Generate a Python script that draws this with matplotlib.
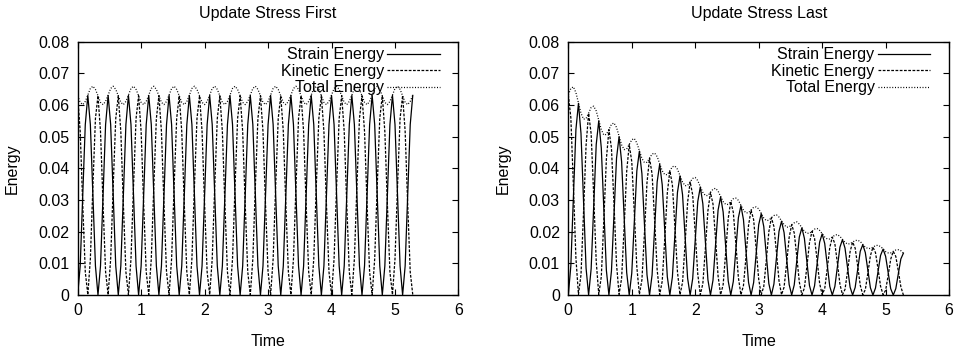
import numpy as np
import matplotlib
matplotlib.use("Agg")
import matplotlib.pyplot as plt

plt.rcParams['font.family'] = ['Liberation Sans', 'DejaVu Sans']
plt.rcParams['font.size'] = 11.5

# sample times (step 0.04 from 0 to 5.28)
time = np.round(np.arange(133) * 0.04, 2)

# Update Stress First
strain_first = [
    0.0, 0.0092, 0.0315, 0.0538, 0.0630, 0.0538, 0.0315, 0.0092,
    0.0, 0.0092, 0.0315, 0.0538, 0.0630, 0.0538, 0.0315, 0.0092,
    0.0, 0.0092, 0.0315, 0.0538, 0.0630, 0.0538, 0.0315, 0.0092,
    0.0, 0.0092, 0.0315, 0.0538, 0.0630, 0.0538, 0.0315, 0.0092,
    0.0, 0.0092, 0.0315, 0.0538, 0.0630, 0.0538, 0.0315, 0.0092,
    0.0, 0.0092, 0.0315, 0.0538, 0.0630, 0.0538, 0.0315, 0.0092,
    0.0, 0.0092, 0.0315, 0.0538, 0.0630, 0.0538, 0.0315, 0.0092,
    0.0, 0.0092, 0.0315, 0.0538, 0.0630, 0.0538, 0.0315, 0.0092,
    0.0, 0.0092, 0.0315, 0.0538, 0.0630, 0.0538, 0.0315, 0.0092,
    0.0, 0.0092, 0.0315, 0.0538, 0.0630, 0.0538, 0.0315, 0.0092,
    0.0, 0.0092, 0.0315, 0.0538, 0.0630, 0.0538, 0.0315, 0.0092,
    0.0, 0.0092, 0.0315, 0.0538, 0.0630, 0.0538, 0.0315, 0.0092,
    0.0, 0.0092, 0.0315, 0.0538, 0.0630, 0.0538, 0.0315, 0.0092,
    0.0, 0.0092, 0.0315, 0.0538, 0.0630, 0.0538, 0.0315, 0.0092,
    0.0, 0.0092, 0.0315, 0.0538, 0.0630, 0.0538, 0.0315, 0.0092,
    0.0, 0.0092, 0.0315, 0.0538, 0.0630, 0.0538, 0.0315, 0.0092,
    0.0, 0.0092, 0.0315, 0.0538, 0.0630,
]
kinetic_first = [
    0.0629, 0.0516, 0.0286, 0.0073, 0.0001, 0.0114, 0.0344, 0.0557,
    0.0629, 0.0516, 0.0286, 0.0073, 0.0001, 0.0114, 0.0344, 0.0557,
    0.0629, 0.0516, 0.0286, 0.0073, 0.0001, 0.0114, 0.0344, 0.0557,
    0.0629, 0.0516, 0.0286, 0.0073, 0.0001, 0.0114, 0.0344, 0.0557,
    0.0629, 0.0516, 0.0286, 0.0073, 0.0001, 0.0114, 0.0344, 0.0557,
    0.0629, 0.0516, 0.0286, 0.0073, 0.0001, 0.0114, 0.0344, 0.0557,
    0.0629, 0.0516, 0.0286, 0.0073, 0.0001, 0.0114, 0.0344, 0.0557,
    0.0629, 0.0516, 0.0286, 0.0073, 0.0001, 0.0114, 0.0344, 0.0557,
    0.0629, 0.0516, 0.0286, 0.0073, 0.0001, 0.0114, 0.0344, 0.0557,
    0.0629, 0.0516, 0.0286, 0.0073, 0.0001, 0.0114, 0.0344, 0.0557,
    0.0629, 0.0516, 0.0286, 0.0073, 0.0001, 0.0114, 0.0344, 0.0557,
    0.0629, 0.0516, 0.0286, 0.0073, 0.0001, 0.0114, 0.0344, 0.0557,
    0.0629, 0.0516, 0.0286, 0.0073, 0.0001, 0.0114, 0.0344, 0.0557,
    0.0629, 0.0516, 0.0286, 0.0073, 0.0001, 0.0114, 0.0344, 0.0557,
    0.0629, 0.0516, 0.0286, 0.0073, 0.0001, 0.0114, 0.0344, 0.0557,
    0.0629, 0.0516, 0.0286, 0.0073, 0.0001, 0.0114, 0.0344, 0.0557,
    0.0629, 0.0516, 0.0286, 0.0073, 0.0001,
]
total_first = [
    0.0629, 0.0608, 0.0601, 0.0611, 0.0631, 0.0652, 0.0659, 0.0649,
    0.0629, 0.0608, 0.0601, 0.0611, 0.0631, 0.0652, 0.0659, 0.0649,
    0.0629, 0.0608, 0.0601, 0.0611, 0.0631, 0.0652, 0.0659, 0.0649,
    0.0629, 0.0608, 0.0601, 0.0611, 0.0631, 0.0652, 0.0659, 0.0649,
    0.0629, 0.0608, 0.0601, 0.0611, 0.0631, 0.0652, 0.0659, 0.0649,
    0.0629, 0.0608, 0.0601, 0.0611, 0.0631, 0.0652, 0.0659, 0.0649,
    0.0629, 0.0608, 0.0601, 0.0611, 0.0631, 0.0652, 0.0659, 0.0649,
    0.0629, 0.0608, 0.0601, 0.0611, 0.0631, 0.0652, 0.0659, 0.0649,
    0.0629, 0.0608, 0.0601, 0.0611, 0.0631, 0.0652, 0.0659, 0.0649,
    0.0629, 0.0608, 0.0601, 0.0611, 0.0631, 0.0652, 0.0659, 0.0649,
    0.0629, 0.0608, 0.0601, 0.0611, 0.0631, 0.0652, 0.0659, 0.0649,
    0.0629, 0.0608, 0.0601, 0.0611, 0.0631, 0.0652, 0.0659, 0.0649,
    0.0629, 0.0608, 0.0601, 0.0611, 0.0631, 0.0652, 0.0659, 0.0649,
    0.0629, 0.0608, 0.0601, 0.0611, 0.0631, 0.0652, 0.0659, 0.0649,
    0.0629, 0.0608, 0.0601, 0.0611, 0.0631, 0.0652, 0.0659, 0.0649,
    0.0629, 0.0608, 0.0601, 0.0611, 0.0631, 0.0652, 0.0659, 0.0649,
    0.0629, 0.0608, 0.0601, 0.0611, 0.0631,
]

# Update Stress Last
strain_last = [
    0.0, 0.0092, 0.0310, 0.0522, 0.0605, 0.0510, 0.0295, 0.0085,
    0.0, 0.0083, 0.0281, 0.0475, 0.0550, 0.0464, 0.0268, 0.0078,
    0.0, 0.0076, 0.0256, 0.0432, 0.0500, 0.0421, 0.0244, 0.0071,
    0.0, 0.0069, 0.0233, 0.0392, 0.0454, 0.0383, 0.0222, 0.0064,
    0.0, 0.0063, 0.0211, 0.0357, 0.0413, 0.0348, 0.0202, 0.0058,
    0.0, 0.0057, 0.0192, 0.0324, 0.0376, 0.0317, 0.0183, 0.0053,
    0.0, 0.0052, 0.0175, 0.0295, 0.0341, 0.0288, 0.0167, 0.0048,
    0.0, 0.0047, 0.0159, 0.0268, 0.0310, 0.0262, 0.0152, 0.0044,
    0.0, 0.0043, 0.0144, 0.0244, 0.0282, 0.0238, 0.0138, 0.0040,
    0.0, 0.0039, 0.0131, 0.0222, 0.0257, 0.0216, 0.0125, 0.0036,
    0.0, 0.0035, 0.0119, 0.0201, 0.0233, 0.0197, 0.0114, 0.0033,
    0.0, 0.0032, 0.0109, 0.0183, 0.0212, 0.0179, 0.0104, 0.0030,
    0.0, 0.0029, 0.0099, 0.0167, 0.0193, 0.0163, 0.0094, 0.0027,
    0.0, 0.0027, 0.0090, 0.0151, 0.0175, 0.0148, 0.0086, 0.0025,
    0.0, 0.0024, 0.0082, 0.0138, 0.0159, 0.0134, 0.0078, 0.0023,
    0.0, 0.0022, 0.0074, 0.0125, 0.0145, 0.0122, 0.0071, 0.0020,
    0.0, 0.0020, 0.0067, 0.0114, 0.0132,
]
kinetic_last = [
    0.0632, 0.0560, 0.0347, 0.0117, 0.0002, 0.0064, 0.0260, 0.0472,
    0.0574, 0.0509, 0.0315, 0.0106, 0.0002, 0.0058, 0.0237, 0.0429,
    0.0522, 0.0463, 0.0287, 0.0097, 0.0002, 0.0053, 0.0215, 0.0390,
    0.0475, 0.0421, 0.0261, 0.0088, 0.0002, 0.0048, 0.0196, 0.0355,
    0.0432, 0.0382, 0.0237, 0.0080, 0.0001, 0.0044, 0.0178, 0.0322,
    0.0392, 0.0348, 0.0215, 0.0073, 0.0001, 0.0040, 0.0162, 0.0293,
    0.0357, 0.0316, 0.0196, 0.0066, 0.0001, 0.0036, 0.0147, 0.0266,
    0.0324, 0.0287, 0.0178, 0.0060, 0.0001, 0.0033, 0.0134, 0.0242,
    0.0295, 0.0261, 0.0162, 0.0055, 0.0001, 0.0030, 0.0121, 0.0220,
    0.0268, 0.0238, 0.0147, 0.0050, 0.0001, 0.0027, 0.0110, 0.0200,
    0.0244, 0.0216, 0.0134, 0.0045, 0.0001, 0.0025, 0.0100, 0.0182,
    0.0222, 0.0196, 0.0122, 0.0041, 0.0001, 0.0022, 0.0091, 0.0165,
    0.0201, 0.0179, 0.0111, 0.0037, 0.0001, 0.0020, 0.0083, 0.0150,
    0.0183, 0.0162, 0.0101, 0.0034, 0.0001, 0.0018, 0.0075, 0.0137,
    0.0167, 0.0148, 0.0091, 0.0031, 0.0001, 0.0017, 0.0069, 0.0124,
    0.0151, 0.0134, 0.0083, 0.0028, 0.0001, 0.0015, 0.0062, 0.0113,
    0.0138, 0.0122, 0.0076, 0.0026, 0.0000,
]
total_last = [
    0.0632, 0.0652, 0.0657, 0.0639, 0.0607, 0.0574, 0.0555, 0.0557,
    0.0574, 0.0592, 0.0596, 0.0581, 0.0552, 0.0522, 0.0505, 0.0507,
    0.0522, 0.0539, 0.0543, 0.0529, 0.0502, 0.0474, 0.0459, 0.0461,
    0.0475, 0.0490, 0.0494, 0.0480, 0.0456, 0.0431, 0.0418, 0.0419,
    0.0432, 0.0445, 0.0448, 0.0437, 0.0414, 0.0392, 0.0380, 0.0380,
    0.0392, 0.0405, 0.0407, 0.0397, 0.0377, 0.0357, 0.0345, 0.0346,
    0.0357, 0.0368, 0.0371, 0.0361, 0.0342, 0.0324, 0.0314, 0.0314,
    0.0324, 0.0334, 0.0337, 0.0328, 0.0311, 0.0295, 0.0286, 0.0286,
    0.0295, 0.0304, 0.0306, 0.0299, 0.0283, 0.0268, 0.0259, 0.0260,
    0.0268, 0.0277, 0.0278, 0.0272, 0.0258, 0.0243, 0.0235, 0.0236,
    0.0244, 0.0251, 0.0253, 0.0246, 0.0234, 0.0222, 0.0214, 0.0215,
    0.0222, 0.0228, 0.0231, 0.0224, 0.0213, 0.0201, 0.0195, 0.0195,
    0.0201, 0.0208, 0.0210, 0.0204, 0.0194, 0.0183, 0.0177, 0.0177,
    0.0183, 0.0189, 0.0191, 0.0185, 0.0176, 0.0166, 0.0161, 0.0162,
    0.0167, 0.0172, 0.0173, 0.0169, 0.0160, 0.0151, 0.0147, 0.0147,
    0.0151, 0.0156, 0.0157, 0.0153, 0.0146, 0.0137, 0.0133, 0.0133,
    0.0138, 0.0142, 0.0143, 0.0140, 0.0132,
]

titles = ["Update Stress First", "Update Stress Last"]
series_names = ["Strain Energy", "Kinetic Energy", "Total Energy"]
x_ticks = [0, 1, 2, 3, 4, 5, 6]
y_ticks = [0, 0.01, 0.02, 0.03, 0.04, 0.05, 0.06, 0.07, 0.08]
y_tick_labels = ["0", "0.01", "0.02", "0.03", "0.04", "0.05", "0.06", "0.07", "0.08"]

panels = [
    (strain_first, kinetic_first, total_first),
    (strain_last, kinetic_last, total_last),
]
styles = ['-', (0, (2.2, 1.2)), (0, (0.8, 1.4))]

fig = plt.figure(figsize=(9.66, 3.5), dpi=100)
ax_left = [0.0804, 0.5883]

for i in range(2):
    ax = fig.add_axes([ax_left[i], 0.157, 0.3942, 0.7243])
    for data, name, ls in zip(panels[i], series_names, styles):
        ax.plot(time, data, color='black', linestyle=ls, linewidth=0.9, label=name)

    ax.set_xlim(0, 6)
    ax.set_ylim(0, 0.08)
    ax.set_xticks(x_ticks)
    ax.set_xticklabels([str(v) for v in x_ticks])
    ax.set_yticks(y_ticks)
    ax.set_yticklabels(y_tick_labels)
    ax.tick_params(direction='in', top=True, right=True, length=4, width=0.8,
                   labelsize=11.5, pad=6)
    for sp in ax.spines.values():
        sp.set_linewidth(1.0)

    ax.set_title(titles[i], fontsize=11.5, pad=17)
    ax.set_xlabel("Time", fontsize=11.5, labelpad=11)
    ax.set_ylabel("Energy", fontsize=11.5, labelpad=13)

    ax.legend(loc='upper right', bbox_to_anchor=(0.951, 0.978), frameon=False,
              markerfirst=False, fontsize=11.5, handlelength=3.3, handletextpad=0.2,
              labelspacing=0.1, borderpad=0, borderaxespad=0)

fig.savefig("out.png", dpi=100)
